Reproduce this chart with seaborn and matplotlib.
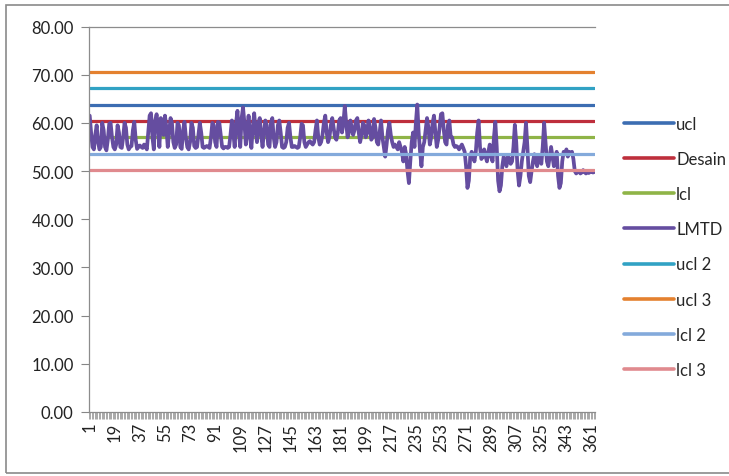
import numpy as np
import pandas as pd
import seaborn as sns
import matplotlib
matplotlib.use("Agg")
import matplotlib.pyplot as plt
from matplotlib.lines import Line2D
from matplotlib.patches import Rectangle
from matplotlib.ticker import FixedLocator, FuncFormatter

# Daily LMTD readings (one value per day)
lmtd = [
    61.5, 58.0, 55.0, 54.5, 57.5, 59.5, 56.0, 54.5, 55.0, 60.0, 58.5, 55.0, 54.3, 56.5, 59.8, 60.0, 57.0, 55.0, 54.5, 55.5,
    59.5, 58.0, 55.0, 54.8, 57.0, 60.0, 59.0, 55.5, 54.5, 55.0, 55.2, 58.5, 60.2, 56.5, 54.6, 55.0, 55.3, 55.0, 54.8, 55.5,
    55.0, 54.5, 58.0, 61.5, 62.0, 57.0, 54.5, 60.5, 61.8, 59.0, 55.0, 61.0, 60.5, 57.5, 61.5, 59.0, 55.0, 58.0, 61.0, 60.0,
    56.0, 54.8, 55.5, 60.0, 59.5, 55.0, 54.6, 58.5, 60.2, 57.0, 55.0, 54.5, 56.0, 60.0, 59.0, 55.2, 54.8, 55.0, 57.5, 60.0,
    58.0, 55.0, 54.8, 55.0, 55.2, 55.0, 54.8, 57.0, 60.0, 59.5, 56.0, 55.0, 60.2, 60.0, 57.5, 55.0, 54.7, 55.0, 55.0, 54.8,
    55.0, 57.5, 60.5, 58.0, 55.0, 60.0, 62.5, 58.0, 55.0, 61.0, 63.2, 60.0, 55.5, 58.5, 61.5, 57.0, 54.8, 59.0, 62.0, 58.5,
    56.0, 60.0, 61.0, 57.5, 55.0, 58.0, 60.5, 59.5, 55.5, 55.0, 60.0, 61.0, 57.0, 55.0, 56.0, 59.5, 60.5, 58.0, 55.0, 54.8,
    55.0, 56.0, 59.0, 60.0, 57.0, 55.0, 55.0, 55.2, 55.0, 54.8, 55.0, 57.0, 59.8, 59.5, 56.0, 55.0, 55.5, 56.0, 56.2, 55.8,
    55.5, 56.0, 58.5, 60.5, 57.0, 55.5, 56.0, 57.5, 60.0, 61.5, 58.0, 56.0, 57.0, 59.5, 61.0, 59.0, 57.0, 56.5, 58.0, 60.5,
    61.0, 58.0, 60.0, 63.5, 60.0, 57.0, 58.0, 60.5, 59.0, 57.5, 58.5, 60.5, 61.0, 58.0, 56.0, 57.5, 60.0, 59.5, 57.0, 58.0,
    60.5, 59.0, 56.5, 57.0, 60.8, 59.0, 56.0, 55.5, 58.0, 60.5, 57.0, 55.0, 53.0, 55.5, 58.5, 60.0, 57.5, 56.0, 55.0, 55.5,
    55.0, 54.5, 56.0, 55.0, 54.0, 52.0, 55.0, 53.5, 50.0, 47.5, 52.0, 56.0, 58.0, 55.0, 60.0, 63.8, 58.0, 54.0, 51.0, 55.0,
    56.0, 58.5, 61.0, 59.0, 55.5, 57.0, 60.0, 61.5, 58.0, 55.0, 56.5, 59.0, 61.8, 62.0, 58.5, 56.0, 55.5, 59.5, 60.5, 57.0,
    57.0, 55.5, 55.0, 55.2, 55.0, 54.5, 55.0, 55.5, 54.8, 54.0,
    51.0, 46.5, 48.0, 53.0, 54.0, 53.5, 52.0, 54.0, 58.0, 60.5,
    55.0, 52.5, 53.0, 54.5, 53.0, 52.0, 54.0, 55.5, 53.0, 52.0,
    57.0, 60.2, 55.0, 48.0, 45.8, 47.0, 51.0, 53.0, 52.0, 51.0,
    53.0, 52.5, 51.5, 52.0, 55.0, 59.6, 56.0, 50.0, 47.0, 49.0,
    52.0, 54.0, 56.0, 60.0, 55.0, 49.0, 47.7, 50.0, 52.0, 53.5,
    52.0, 51.0, 53.0, 52.5, 51.5, 55.0, 60.0, 56.0, 52.0, 51.0,
    53.0, 55.0, 53.0, 51.0, 52.0, 54.0, 49.0, 46.5, 47.5, 52.0,
    54.0, 53.5, 54.5, 53.0, 54.0, 53.5, 54.0, 52.5, 50.0, 49.5,
    49.8, 50.0, 49.5, 49.7, 50.2, 49.8, 49.5, 50.0, 49.6, 49.8, 50.0, 49.7, 49.8,
]

# Control limits (design value +/- 1, 2, 3 sigma)
desain = 60.4
ucl, lcl = 63.8, 57.0
ucl2, lcl2 = 67.2, 53.6
ucl3, lcl3 = 70.6, 50.2

series_order = ["ucl", "Desain", "lcl", "LMTD", "ucl 2", "ucl 3", "lcl 2", "lcl 3"]
series_colors = ["#3C6DB2", "#BE2F3C", "#8FB447", "#654DA0",
                 "#31A2C4", "#E4812F", "#84AADB", "#E08A8E"]

n_days = len(lmtd)
day = np.arange(1, n_days + 1)
wide = pd.DataFrame({
    "day": day,
    "ucl": ucl,
    "Desain": desain,
    "lcl": lcl,
    "LMTD": lmtd,
    "ucl 2": ucl2,
    "ucl 3": ucl3,
    "lcl 2": lcl2,
    "lcl 3": lcl3,
})
long = wide.melt(id_vars="day", var_name="series", value_name="value")

sns.set_style("white")
plt.rcParams["font.family"] = ["Lato", "DejaVu Sans"]

fig = plt.figure(figsize=(7.29, 4.77), dpi=100)
ax = fig.add_axes([89 / 729, 1 - 413 / 477, (595 - 89) / 729, (413 - 27.5) / 477])

sns.lineplot(data=long, x="day", y="value", hue="series", hue_order=series_order,
             palette=dict(zip(series_order, series_colors)), linewidth=2.3,
             legend=False, ax=ax)
# the measured series is drawn a little heavier than the limit lines
for line in ax.get_lines():
    if line.get_color() == "#654DA0" or matplotlib.colors.to_hex(line.get_color()).upper() == "#654DA0":
        line.set_linewidth(2.7)

ax.set_xlim(0.5, n_days + 0.5)
ax.set_ylim(0, 80)
ax.set_xlabel("")
ax.set_ylabel("")

# y axis
ax.set_yticks(np.arange(0, 81, 10))
ax.yaxis.set_major_formatter(FuncFormatter(lambda v, p: f"{v:.2f}"))
ax.tick_params(axis="y", which="major", length=6, width=0.8, color="#868686",
               direction="out", left=True, pad=5, labelsize=12, labelcolor="#222222")

# x axis: a tick mark at every category boundary, labels every 18 days
x_labels = list(range(1, n_days + 1, 18))
ax.xaxis.set_major_locator(FixedLocator(x_labels))
ax.set_xticklabels([str(v) for v in x_labels], rotation=90)
ax.xaxis.set_minor_locator(FixedLocator(np.arange(0.5, n_days + 1, 1)))
ax.tick_params(axis="x", which="major", length=0, pad=7, labelsize=12, labelcolor="#222222")
ax.tick_params(axis="x", which="minor", length=5, width=0.6, color="#9a9a9a",
               direction="out", bottom=True)

for side in ["left", "bottom", "top"]:
    ax.spines[side].set_color("#8c8c8c")
    ax.spines[side].set_linewidth(0.9)
ax.spines["right"].set_visible(False)

handles = [Line2D([0], [0], color=c, linewidth=2.6) for c in series_colors]
fig.legend(handles, series_order, loc="upper left", bbox_to_anchor=(617 / 729, 1 - 110 / 477),
           frameon=False, fontsize=12, handlelength=3.0, handletextpad=0.15,
           labelspacing=1.15, borderaxespad=0)

# chart border
fig.patches.append(Rectangle((6 / 729, 3 / 477), 1.0, 1 - 9 / 477, transform=fig.transFigure,
                             fill=False, edgecolor="#8a8a8a", linewidth=1.2))

fig.savefig("out.png", dpi=100)
